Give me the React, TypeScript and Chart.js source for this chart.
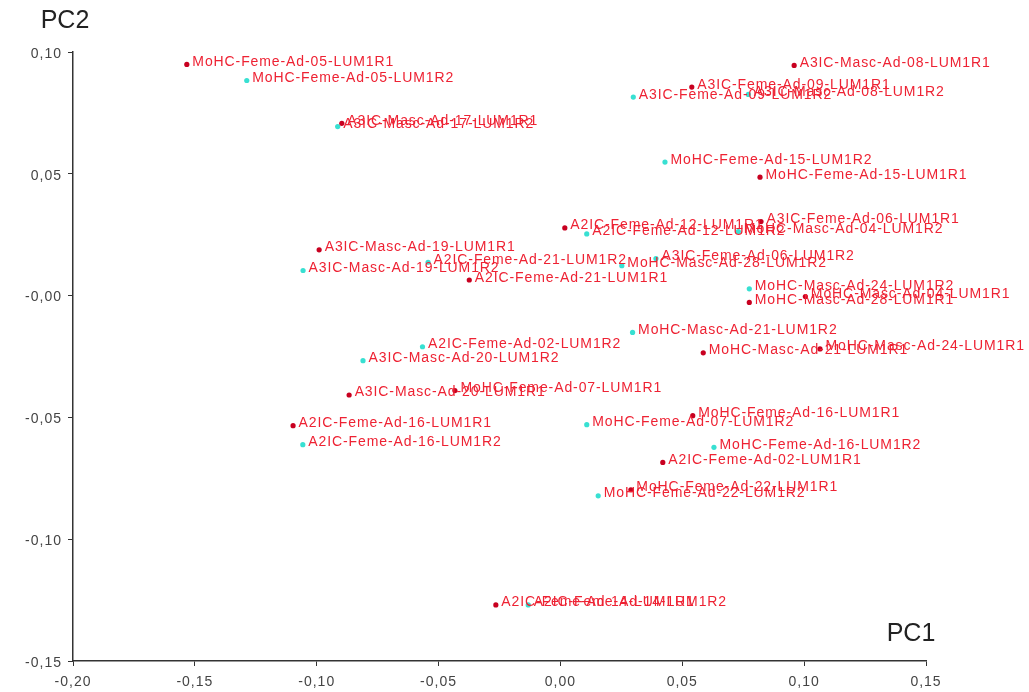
import { useEffect, useRef } from 'react';
import { Chart, registerables } from 'chart.js';

Chart.register(...registerables);

// Sample identifiers (each has a LUM1R1 and a LUM1R2 replicate)
const samples = [
  'MoHC-Feme-Ad-05', 'A3IC-Masc-Ad-17', 'A3IC-Masc-Ad-08', 'A3IC-Feme-Ad-09',
  'MoHC-Feme-Ad-15', 'A2IC-Feme-Ad-12', 'A3IC-Feme-Ad-06', 'MoHC-Masc-Ad-04',
  'A3IC-Masc-Ad-19', 'A2IC-Feme-Ad-21', 'MoHC-Masc-Ad-28', 'MoHC-Masc-Ad-24',
  'MoHC-Masc-Ad-21', 'A2IC-Feme-Ad-02', 'A3IC-Masc-Ad-20', 'MoHC-Feme-Ad-07',
  'A2IC-Feme-Ad-16', 'MoHC-Feme-Ad-16', 'MoHC-Feme-Ad-22', 'A2IC-Feme-Ad-14',
];

// Replicate R1 (PC1, PC2)
const r1PC1 = [
  -0.1533, -0.0897, 0.0959, 0.0539, 0.0819, 0.0018, 0.0823, 0.1005,
  -0.0990, -0.0374, 0.0775, 0.1065, 0.0586, 0.0420, -0.0867, -0.0433,
  -0.1097, 0.0543, 0.0289, -0.0265,
];
const r1PC2 = [
  0.0949, 0.0707, 0.0945, 0.0856, 0.0486, 0.0278, 0.0304, -0.0004,
  0.0188, 0.0064, -0.0028, -0.0219, -0.0235, -0.0685, -0.0408, -0.0390,
  -0.0534, -0.0493, -0.0797, -0.1270,
];

// Replicate R2 (PC1, PC2)
const r2PC1 = [
  -0.1287, -0.0914, 0.0771, 0.0299, 0.0429, 0.0108, 0.0392, 0.0730,
  -0.1056, -0.0543, 0.0252, 0.0775, 0.0296, -0.0566, -0.0810, 0.0108,
  -0.1057, 0.0630, 0.0155, -0.0132,
];
const r2PC2 = [
  0.0883, 0.0694, 0.0826, 0.0815, 0.0548, 0.0253, 0.0152, 0.0263,
  0.0103, 0.0137, 0.0123, 0.0028, -0.0151, -0.0210, -0.0267, -0.0530,
  -0.0612, -0.0623, -0.0822, -0.1270,
];

const xTickValues = [-0.2, -0.15, -0.1, -0.05, 0, 0.05, 0.1, 0.15];
const xTickLabels = ['-0,20', '-0,15', '-0,10', '-0,05', '0,00', '0,05', '0,10', '0,15'];
const yTickValues = [-0.15, -0.1, -0.05, 0, 0.05, 0.1];
const yTickLabels = ['-0,15', '-0,10', '-0,05', '-0,00', '0,05', '0,10'];

const FONT = "'Liberation Sans', Arial, sans-serif";
const LABEL_COLOR = '#ee2233';

export default function App() {
  const ref = useRef<HTMLCanvasElement>(null);

  useEffect(() => {
    if (!ref.current) return;

    const r1Data = samples.map((s, i) => ({ x: r1PC1[i], y: r1PC2[i], label: s + '-LUM1R1' }));
    const r2Data = samples.map((s, i) => ({ x: r2PC1[i], y: r2PC2[i], label: s + '-LUM1R2' }));

    const labelPlugin = {
      id: 'pointLabels',
      beforeDraw(chart: any) {
        // slight letter spacing for the axis tick labels
        (chart.ctx as any).letterSpacing = '1px';
      },
      afterDatasetsDraw(chart: any) {
        const ctx = chart.ctx as CanvasRenderingContext2D;
        ctx.save();
        ctx.font = `14px ${FONT}`;
        (ctx as any).letterSpacing = '0.9px';
        ctx.fillStyle = LABEL_COLOR;
        ctx.textBaseline = 'alphabetic';
        ctx.textAlign = 'left';
        chart.data.datasets.forEach((ds: any, di: number) => {
          const meta = chart.getDatasetMeta(di);
          meta.data.forEach((el: any, i: number) => {
            ctx.fillText(ds.data[i].label, el.x + 5.5, el.y + 1.5);
          });
        });
        ctx.restore();
      },
      afterDraw(chart: any) {
        const ctx = chart.ctx as CanvasRenderingContext2D;
        ctx.save();
        (ctx as any).letterSpacing = '0px';
        ctx.font = `25px ${FONT}`;
        ctx.fillStyle = '#222';
        ctx.textBaseline = 'middle';
        ctx.textAlign = 'center';
        ctx.fillText('PC2', 65, 21);
        ctx.fillText('PC1', 911, 634);
        ctx.restore();
      },
    };

    const chart = new Chart(ref.current, {
      type: 'scatter',
      data: {
        datasets: [
          {
            label: 'LUM1R1',
            data: r1Data,
            backgroundColor: '#c80020',
            borderWidth: 0,
            pointRadius: 2.6,
          },
          {
            label: 'LUM1R2',
            data: r2Data,
            backgroundColor: '#38e0d2',
            borderWidth: 0,
            pointRadius: 2.6,
          },
        ],
      },
      options: {
        responsive: false,
        animation: false,
        devicePixelRatio: 1,
        layout: { padding: { top: 52, right: 103, left: 0, bottom: 0 } },
        plugins: {
          legend: { display: false },
          tooltip: { enabled: false },
          title: { display: false },
        },
        scales: {
          x: {
            type: 'linear',
            position: 'bottom',
            min: -0.2,
            max: 0.15,
            afterBuildTicks(scale: any) {
              scale.ticks = xTickValues.map((v) => ({ value: v }));
            },
            afterFit(scale: any) {
              scale.height = 31;
            },
            ticks: {
              autoSkip: false,
              maxRotation: 0,
              padding: 8,
              color: '#444',
              font: { family: FONT, size: 14 },
              callback: (_v: any, i: number) => xTickLabels[i],
            },
            grid: {
              display: true,
              drawOnChartArea: false,
              drawTicks: true,
              tickLength: 5,
              color: '#333',
            },
            border: { display: true, color: '#333', width: 1.5 },
          },
          y: {
            type: 'linear',
            position: 'left',
            min: -0.15,
            max: 0.1,
            afterBuildTicks(scale: any) {
              scale.ticks = yTickValues.map((v) => ({ value: v }));
            },
            afterFit(scale: any) {
              scale.width = 73;
            },
            ticks: {
              autoSkip: false,
              padding: 6,
              labelOffset: 2,
              color: '#444',
              font: { family: FONT, size: 14 },
              callback: (_v: any, i: number) => yTickLabels[i],
            },
            grid: {
              display: true,
              drawOnChartArea: false,
              drawTicks: true,
              tickLength: 5,
              color: '#333',
            },
            border: { display: true, color: '#333', width: 1.5 },
          },
        },
      },
      plugins: [labelPlugin],
    });

    return () => chart.destroy();
  }, []);

  return (
    <div style={{ position: 'fixed', left: 0, top: 0, width: 1029, height: 692, background: '#fff' }}>
      <canvas ref={ref} width={1029} height={692} />
    </div>
  );
}
